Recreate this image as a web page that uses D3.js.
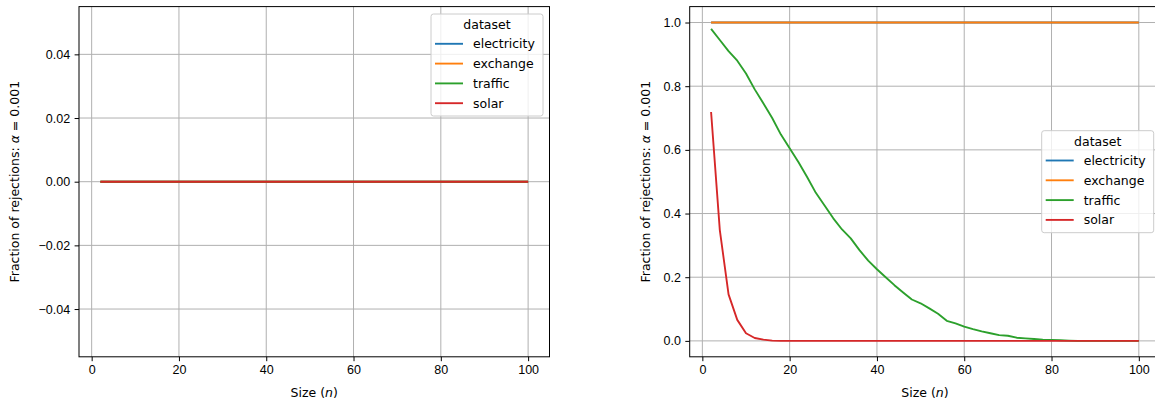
<!DOCTYPE html>
<html>
<head>
<meta charset="utf-8">
<script src="https://cdn.jsdelivr.net/npm/d3@7"></script>
<style>
  body { margin: 0; background: #fff; }
  svg { display: block; font-family: "DejaVu Sans", sans-serif; }
  .tick text { font-size: 12.5px; fill: #000; }
</style>
</head>
<body>
<svg id="chart" width="1155" height="402"></svg>
<script>
// Data

const sizes = [2, 4, 6, 8, 10, 12, 14, 16, 18, 20, 22, 24, 26, 28, 30, 32, 34, 36, 38, 40,
  42, 44, 46, 48, 50, 52, 54, 56, 58, 60, 62, 64, 66, 68, 70, 72, 74, 76, 78, 80,
  82, 84, 86, 88, 90, 92, 94, 96, 98, 100];

const datasets = ['electricity', 'exchange', 'traffic', 'solar'];
const colors = ['#1f77b4', '#ff7f0e', '#2ca02c', '#d62728'];

// left panel: every dataset stays at zero
const flatZero = [0, 0, 0, 0, 0, 0, 0, 0, 0, 0, 0, 0, 0, 0, 0, 0, 0, 0, 0, 0,
  0, 0, 0, 0, 0, 0, 0, 0, 0, 0, 0, 0, 0, 0, 0, 0, 0, 0, 0, 0,
  0, 0, 0, 0, 0, 0, 0, 0, 0, 0];
const flatOne = [1, 1, 1, 1, 1, 1, 1, 1, 1, 1, 1, 1, 1, 1, 1, 1, 1, 1, 1, 1,
  1, 1, 1, 1, 1, 1, 1, 1, 1, 1, 1, 1, 1, 1, 1, 1, 1, 1, 1, 1,
  1, 1, 1, 1, 1, 1, 1, 1, 1, 1];

// right panel
const trafficRight = [0.98, 0.945, 0.91, 0.88, 0.84, 0.79, 0.746, 0.70, 0.648, 0.605,
  0.562, 0.515, 0.465, 0.425, 0.385, 0.35, 0.322, 0.285, 0.252, 0.225,
  0.20, 0.175, 0.152, 0.13, 0.118, 0.102, 0.085, 0.063, 0.055, 0.045,
  0.037, 0.03, 0.024, 0.018, 0.016, 0.01, 0.008, 0.006, 0.004, 0.003,
  0.002, 0.001, 0, 0, 0, 0, 0, 0, 0, 0];
const solarRight = [0.719, 0.348, 0.146, 0.066, 0.024, 0.009, 0.004, 0.001, 0, 0,
  0, 0, 0, 0, 0, 0, 0, 0, 0, 0,
  0, 0, 0, 0, 0, 0, 0, 0, 0, 0,
  0, 0, 0, 0, 0, 0, 0, 0, 0, 0,
  0, 0, 0, 0, 0, 0, 0, 0, 0, 0];

const xTicks = [0, 20, 40, 60, 80, 100];
const leftYTicks = [-0.04, -0.02, 0, 0.02, 0.04];
const rightYTicks = [0, 0.2, 0.4, 0.6, 0.8, 1.0];

const panels = [
  {
    left: 79, yDomain: [-0.055, 0.055], yTicks: leftYTicks, yFmt: d3.format('.2f'),
    series: [flatZero, flatZero, flatZero, flatZero],
    labelX: 13.8, legendTop: 14,
  },
  {
    left: 689.7, yDomain: [-0.05, 1.05], yTicks: rightYTicks, yFmt: d3.format('.1f'),
    series: [flatOne, flatOne, trafficRight, solarRight],
    labelX: 645, legendTop: null,
  },
];

// Layout

const svg = d3.select('#chart');
const axTop = 6.6;
const axBottom = 356.8;
const axW = 470.5;
const fontSize = 12.5;
const minus = (s) => s.replace('-', '\u2212');

panels.forEach((p) => {
  const x = d3.scaleLinear().domain([-2.9, 104.9]).range([p.left, p.left + axW]);
  const y = d3.scaleLinear().domain(p.yDomain).range([axBottom, axTop]);

  const g = svg.append('g');

  // Grid
  g.append('g')
    .selectAll('line')
    .data(xTicks)
    .enter()
    .append('line')
    .attr('x1', (d) => x(d)).attr('x2', (d) => x(d))
    .attr('y1', axTop).attr('y2', axBottom)
    .attr('stroke', '#b0b0b0').attr('stroke-width', 1);

  g.append('g')
    .selectAll('line')
    .data(p.yTicks)
    .enter()
    .append('line')
    .attr('x1', p.left).attr('x2', p.left + axW)
    .attr('y1', (d) => y(d)).attr('y2', (d) => y(d))
    .attr('stroke', '#b0b0b0').attr('stroke-width', 1);

  // Lines
  const line = d3.line()
    .x((d, i) => x(sizes[i]))
    .y((d) => y(d));

  p.series.forEach((vals, k) => {
    g.append('path')
      .attr('d', line(vals))
      .attr('fill', 'none')
      .attr('stroke', colors[k])
      .attr('stroke-width', 1.875)
      .attr('stroke-linejoin', 'round')
      .attr('stroke-linecap', 'butt');
  });

  // Axes
  const ax = g.append('g')
    .attr('transform', `translate(0,${axBottom})`)
    .call(d3.axisBottom(x).tickValues(xTicks).tickSize(4.4).tickPadding(4.4));
  ax.select('.domain').remove();

  const ay = g.append('g')
    .attr('transform', `translate(${p.left},0)`)
    .call(d3.axisLeft(y).tickValues(p.yTicks).tickSize(4.4).tickPadding(4.4)
      .tickFormat((d) => minus(p.yFmt(d))));
  ay.select('.domain').remove();

  svg.selectAll('.tick line').attr('stroke', '#000').attr('stroke-width', 1);
  svg.selectAll('.tick text').style('font-size', `${fontSize}px`).attr('font-family', null);

  // Frame
  g.append('rect')
    .attr('x', p.left).attr('y', axTop)
    .attr('width', axW).attr('height', axBottom - axTop)
    .attr('fill', 'none').attr('stroke', '#000').attr('stroke-width', 1);

  // Labels
  const xl = g.append('text')
    .attr('x', x(51))
    .attr('y', 391.7)
    .attr('text-anchor', 'middle')
    .attr('dominant-baseline', 'central')
    .style('font-size', `${fontSize}px`);
  xl.append('tspan').text('Size (');
  xl.append('tspan').attr('font-style', 'italic').text('n');
  xl.append('tspan').text(')');

  const yl = g.append('text')
    .attr('transform', `translate(${p.labelX},${(axTop + axBottom) / 2}) rotate(-90)`)
    .attr('text-anchor', 'middle')
    .attr('dominant-baseline', 'central')
    .style('font-size', `${fontSize}px`);
  yl.append('tspan').text('Fraction of rejections: ');
  yl.append('tspan').attr('font-style', 'italic').text('\u03b1');
  yl.append('tspan').text(' = 0.001');

  // Legend
  const lgW = 112;
  const lgH = 102;
  const lgX = p.left + axW - 6.5 - lgW;
  const lgY = p.legendTop !== null ? p.legendTop : (axTop + axBottom) / 2 - lgH / 2;
  const lg = g.append('g').attr('transform', `translate(${lgX},${lgY})`);

  lg.append('rect')
    .attr('width', lgW).attr('height', lgH)
    .attr('rx', 2.5)
    .attr('fill', '#fff').attr('fill-opacity', 0.8)
    .attr('stroke', '#cccccc').attr('stroke-width', 1);

  lg.append('text')
    .attr('x', 56).attr('y', 10.5)
    .attr('text-anchor', 'middle')
    .attr('dominant-baseline', 'central')
    .style('font-size', `${fontSize}px`)
    .text('dataset');

  const rows = lg.selectAll('.row')
    .data(datasets)
    .enter()
    .append('g')
    .attr('class', 'row')
    .attr('transform', (d, i) => `translate(0,${29.8 + i * 19.8})`);

  rows.append('line')
    .attr('x1', 4).attr('x2', 32)
    .attr('stroke', (d, i) => colors[i])
    .attr('stroke-width', 1.875);

  rows.append('text')
    .attr('x', 42)
    .attr('dominant-baseline', 'central')
    .style('font-size', `${fontSize}px`)
    .text((d) => d);
});
</script>
</body>
</html>
